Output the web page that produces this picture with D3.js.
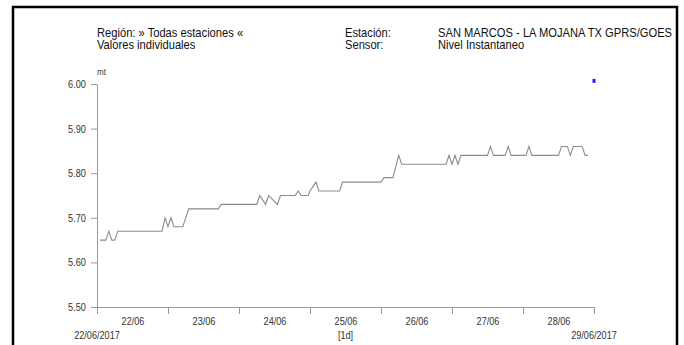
<!DOCTYPE html>
<html>
<head>
<meta charset="utf-8">
<script src="https://cdn.jsdelivr.net/npm/d3@7"></script>
<style>
body{margin:0;background:#fff;}
svg{display:block;font-family:"Liberation Sans",Arial,sans-serif;}
.axis path,.axis line{stroke:#999;}
.axis text{fill:#333;font-size:11px;}
</style>
</head>
<body>
<div id="canvas"></div>
<script>
// hours after 22/06/2017 00:00, and level in mt
var hours  = [1,3,4,5,6,7,22,23,24,25,26,29,31,41,42,54,55,57,58,61,62,67,68,69,71.4,72,74,75,82,83,96,97,100,102,103,118,119,120,121,122,123,132,133,134,138,139,140,145,146,147,156,157,159,160,161,164,165,166];
var levels = [5.65,5.65,5.67,5.65,5.65,5.67,5.67,5.70,5.68,5.70,5.68,5.68,5.72,5.72,5.73,5.73,5.75,5.73,5.75,5.73,5.75,5.75,5.76,5.75,5.75,5.76,5.78,5.76,5.76,5.78,5.78,5.79,5.79,5.84,5.82,5.82,5.84,5.82,5.84,5.82,5.84,5.84,5.86,5.84,5.84,5.86,5.84,5.84,5.86,5.84,5.84,5.86,5.86,5.84,5.86,5.86,5.84,5.84];
var markHours = [168];
var markLevels = [6.007];
var yTicks = [5.50,5.60,5.70,5.80,5.90,6.00];
var header = [
    ['Región: » Todas estaciones «','Valores individuales'],
    ['Estación:','Sensor:'],
    ['SAN MARCOS - LA MOJANA TX GPRS/GOES','Nivel Instantaneo']
];
var unit = 'mt';
var startLabel = '22/06/2017', endLabel = '29/06/2017', stepLabel = '[1d]';

var outerWidth = 684, outerHeight = 345;
var m = {t:84,r:90,b:38,l:97};
var w = outerWidth - m.l - m.r,
    h = outerHeight - m.t - m.b;
var narrow = 0.83; //the source uses a condensed face

var t0 = new Date(2017,5,22), t1 = new Date(2017,5,29);
function toDate(hr){ return new Date(t0.getTime() + hr*3600000); }

var svg = d3.select('#canvas')
    .append('svg')
    .attr('width',outerWidth)
    .attr('height',outerHeight);

//frame
svg.append('rect')
    .attr('x',13).attr('y',7)
    .attr('width',664).attr('height',350)
    .style('fill','none')
    .style('stroke','#000')
    .style('stroke-width',2.5);

//header
var colX = [97,345,438];
header.forEach(function(col,i){
    col.forEach(function(txt,j){
        svg.append('text')
            .attr('transform','translate('+colX[i]+','+(37 + j*12)+') scale(0.93,1)')
            .style('font-size','12px')
            .style('fill','#111')
            .text(txt);
    });
});

var plot = svg.append('g')
    .attr('transform','translate(' + m.l + ',' + m.t + ')');

var scaleX = d3.scaleTime().domain([t0,t1]).range([0,w]);
var scaleY = d3.scaleLinear().domain([5.5,6.0]).range([h,0]);

//y axis
var axisY = d3.axisLeft(scaleY)
    .tickValues(yTicks)
    .tickSize(6)
    .tickSizeOuter(0)
    .tickPadding(7.5)
    .tickFormat(d3.format('.2f'));
plot.append('g').attr('class','axis axis-y').call(axisY);

plot.append('text')
    .attr('transform','translate(0,-9) scale(0.9,1)')
    .style('font-size','9px')
    .style('fill','#333')
    .text(unit);

//x axis: day ticks, labels at midday
var days = d3.timeDay.range(t0, d3.timeDay.offset(t1,1));
var axisX = d3.axisBottom(scaleX)
    .tickValues(days)
    .tickSize(7)
    .tickSizeOuter(0)
    .tickFormat('');
plot.append('g').attr('class','axis axis-x')
    .attr('transform','translate(0,'+h+')')
    .call(axisX);

var noons = days.slice(0,-1).map(function(d){ return d3.timeHour.offset(d,12); });
var axisLab = d3.axisBottom(scaleX)
    .tickValues(noons)
    .tickSize(0)
    .tickPadding(10)
    .tickFormat(d3.timeFormat('%d/%m'));
plot.append('g').attr('class','axis axis-lab')
    .attr('transform','translate(0,'+h+')')
    .call(axisLab)
    .select('.domain').remove();

var sub = plot.append('g').attr('class','axis')
    .attr('transform','translate(0,'+(h+32)+')');
[[t0,startLabel],[noons[3],stepLabel],[t1,endLabel]].forEach(function(p){
    sub.append('g')
        .attr('transform','translate('+scaleX(p[0])+',0)')
        .append('text')
        .attr('text-anchor','middle')
        .text(p[1]);
});

plot.selectAll('.axis text').attr('transform','scale('+narrow+',1)');

//series
var rows = hours.map(function(hr,i){ return {t:toDate(hr), v:levels[i]}; });
var line = d3.line()
    .x(function(d){ return scaleX(d.t); })
    .y(function(d){ return scaleY(d.v); });
plot.append('path')
    .datum(rows)
    .attr('d',line)
    .style('fill','none')
    .style('stroke','#8c8c8c')
    .style('stroke-width',1.1);

//marker
plot.selectAll('.mark')
    .data(markHours.map(function(hr,i){ return {t:toDate(hr), v:markLevels[i]}; }))
    .enter().append('rect')
    .attr('class','mark')
    .attr('x',function(d){ return scaleX(d.t)-1.5; })
    .attr('y',function(d){ return scaleY(d.v)-2; })
    .attr('width',3).attr('height',4)
    .style('fill','#1f1fff');
</script>
</body>
</html>
